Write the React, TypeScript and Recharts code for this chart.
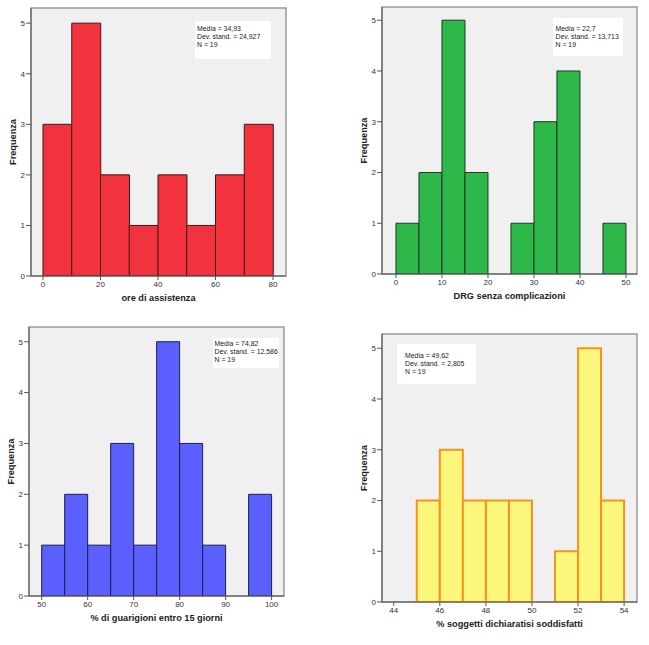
import { Bar, BarChart, CartesianGrid, ReferenceArea, XAxis, YAxis } from "recharts";

// ore di assistenza
const oreBinStarts = [0, 10, 20, 30, 40, 50, 60, 70];
const oreCounts = [3, 5, 2, 1, 2, 1, 2, 3];
const oreTicks = [0, 20, 40, 60, 80];
const oreStats = ["Media = 34,93", "Dev. stand. = 24,927", "N = 19"];

// DRG senza complicazioni
const drgBinStarts = [0, 5, 10, 15, 20, 25, 30, 35, 40, 45];
const drgCounts = [1, 2, 5, 2, 0, 1, 3, 4, 0, 1];
const drgTicks = [0, 10, 20, 30, 40, 50];
const drgStats = ["Media = 22,7", "Dev. stand. = 13,713", "N = 19"];

// % di guarigioni entro 15 giorni
const guarBinStarts = [50, 55, 60, 65, 70, 75, 80, 85, 90, 95];
const guarCounts = [1, 2, 1, 3, 1, 5, 3, 1, 0, 2];
const guarTicks = [50, 60, 70, 80, 90, 100];
const guarStats = ["Media = 74,82", "Dev. stand. = 12,586", "N = 19"];

// % soggetti dichiaratisi soddisfatti
const soddBinStarts = [45, 46, 47, 48, 49, 50, 51, 52, 53];
const soddCounts = [2, 3, 2, 2, 2, 0, 1, 5, 2];
const soddTicks = [44, 46, 48, 50, 52, 54];
const soddStats = ["Media = 49,62", "Dev. stand. = 2,805", "N = 19"];

const freqTicks = [0, 1, 2, 3, 4, 5];

const FONT = "'Liberation Sans', Arial, sans-serif";

interface HistProps {
  starts: number[];
  counts: number[];
  binWidth: number;
  ticks: number[];
  xDomain: [number, number];
  yMax: number;
  title: string;
  fill: string;
  stroke: string;
  strokeWidth: number;
  left: number;
  top: number;
  plotW: number;
  plotH: number;
  stats: string[];
  box: { left: number; top: number; width: number; height: number; padX: number; padY: number };
}

function Histogram(p: HistProps) {
  const data = p.starts.map((s, i) => ({ mid: s + p.binWidth / 2, count: p.counts[i] }));
  const yW = 36;
  const mTop = 4;
  const mRight = 4;
  const xH = 44;
  return (
    <>
      <div style={{ position: "absolute", left: p.left - yW, top: p.top - mTop }}>
        <BarChart
          width={yW + p.plotW + mRight}
          height={mTop + p.plotH + xH}
          data={data}
          margin={{ top: mTop, right: mRight, left: 0, bottom: 0 }}
          barCategoryGap={0}
          barGap={0}
        >
          <CartesianGrid fill="#f0f0f0" horizontal={false} vertical={false} />
          <ReferenceArea
            x1={p.xDomain[0]}
            x2={p.xDomain[1]}
            y1={0}
            y2={p.yMax}
            fill="none"
            stroke="#9a9a9a"
            strokeWidth={1.5}
          />
          <XAxis
            dataKey="mid"
            type="number"
            domain={p.xDomain}
            allowDataOverflow
            ticks={p.ticks}
            interval={0}
            height={xH}
            tickSize={4}
            tickMargin={1}
            axisLine={{ stroke: "#555" }}
            tickLine={{ stroke: "#555" }}
            tick={{ fontSize: 8, fill: "#333", fontFamily: FONT }}
            label={{
              value: p.title,
              position: "center",
              style: { fontSize: 9.2, fontWeight: "bold", fill: "#222", fontFamily: FONT },
            }}
          />
          <YAxis
            type="number"
            domain={[0, p.yMax]}
            allowDataOverflow
            ticks={freqTicks}
            interval={0}
            width={yW}
            tickSize={5}
            tickMargin={1}
            axisLine={{ stroke: "#555" }}
            tickLine={{ stroke: "#555" }}
            tick={{ fontSize: 8, fill: "#333", fontFamily: FONT }}
            label={{
              value: "Frequenza",
              angle: -90,
              position: "center",
              style: { fontSize: 9.2, fontWeight: "bold", fill: "#222", fontFamily: FONT },
            }}
          />
          <Bar
            dataKey="count"
            fill={p.fill}
            stroke={p.stroke}
            strokeWidth={p.strokeWidth}
            isAnimationActive={false}
          />
        </BarChart>
      </div>
      <div
        style={{
          position: "absolute",
          left: p.box.left,
          top: p.box.top,
          width: p.box.width,
          height: p.box.height,
          background: "#fff",
          overflow: "hidden",
          boxSizing: "border-box",
          paddingLeft: p.box.padX,
          paddingTop: p.box.padY,
          fontFamily: FONT,
          fontSize: 6.9,
          lineHeight: "8px",
          color: "#1a1a1a",
          whiteSpace: "nowrap",
        }}
      >
        {p.stats.map((s) => (
          <div key={s}>{s}</div>
        ))}
      </div>
    </>
  );
}

export default function App() {
  return (
    <div style={{ position: "absolute", left: 0, top: 0, width: 649, height: 645, background: "#fff", overflow: "hidden" }}>
      <Histogram
        starts={oreBinStarts}
        counts={oreCounts}
        binWidth={10}
        ticks={oreTicks}
        xDomain={[-4.17, 84.52]}
        yMax={5.3}
        title="ore di assistenza"
        fill="#f2323c"
        stroke="#3a1a1a"
        strokeWidth={1}
        left={31}
        top={8}
        plotW={255}
        plotH={268}
        stats={oreStats}
        box={{ left: 195, top: 21, width: 76, height: 38, padX: 2, padY: 4 }}
      />
      <Histogram
        starts={drgBinStarts}
        counts={drgCounts}
        binWidth={5}
        ticks={drgTicks}
        xDomain={[-3.04, 52.4]}
        yMax={5.26}
        title="DRG senza complicazioni"
        fill="#2fb84a"
        stroke="#1c3a22"
        strokeWidth={1}
        left={382}
        top={7}
        plotW={255}
        plotH={267}
        stats={drgStats}
        box={{ left: 553, top: 18, width: 70, height: 38, padX: 2.5, padY: 7 }}
      />
      <Histogram
        starts={guarBinStarts}
        counts={guarCounts}
        binWidth={5}
        ticks={guarTicks}
        xDomain={[47.24, 102.7]}
        yMax={5.29}
        title="% di guarigioni entro 15 giorni"
        fill="#5a5ffd"
        stroke="#1e1e4a"
        strokeWidth={1}
        left={29}
        top={327}
        plotW={255}
        plotH={269}
        stats={guarStats}
        box={{ left: 213, top: 338, width: 66, height: 30, padX: 1.5, padY: 1.5 }}
      />
      <Histogram
        starts={soddBinStarts}
        counts={soddCounts}
        binWidth={1}
        ticks={soddTicks}
        xDomain={[43.49, 54.56]}
        yMax={5.28}
        title="% soggetti dichiaratisi soddisfatti"
        fill="#fbf77d"
        stroke="#f7921e"
        strokeWidth={2}
        left={382}
        top={334}
        plotW={255}
        plotH={268}
        stats={soddStats}
        box={{ left: 397, top: 344, width: 79, height: 40, padX: 8, padY: 8 }}
      />
    </div>
  );
}
